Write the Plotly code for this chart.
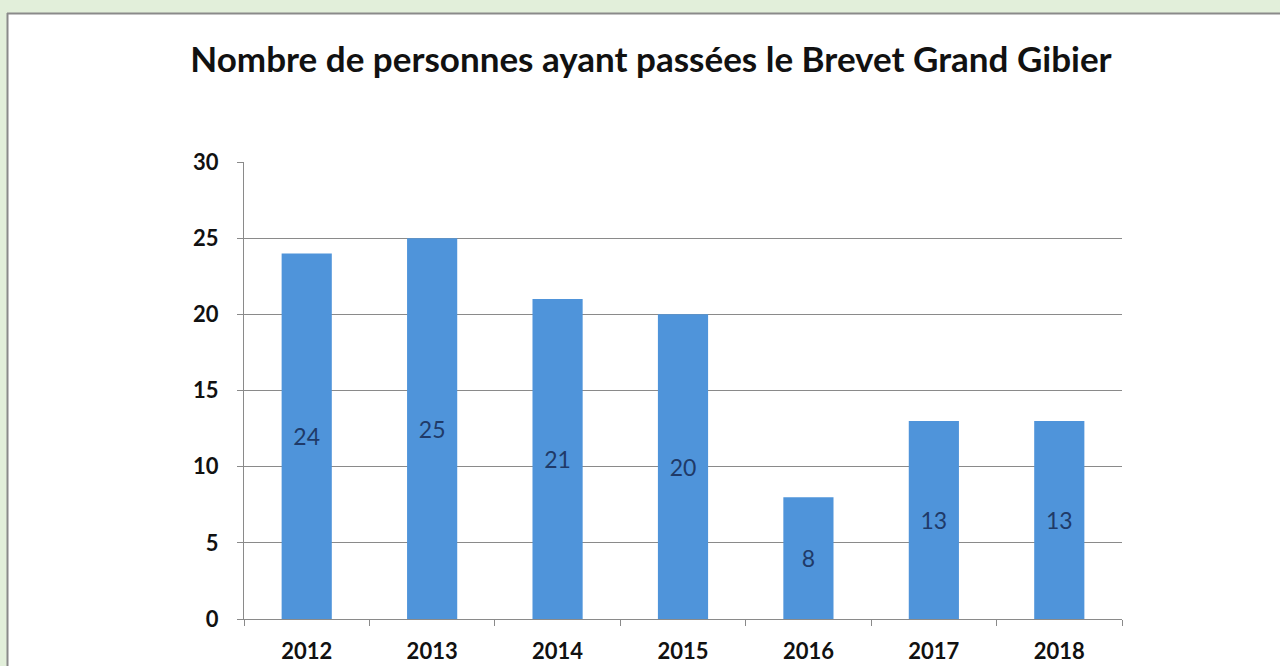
import plotly.graph_objects as go

years = ["2012", "2013", "2014", "2015", "2016", "2017", "2018"]
counts = [24, 25, 21, 20, 8, 13, 13]
title_text = "Nombre de personnes ayant passées le Brevet Grand Gibier"

# body margin is removed in post_script, so figure pixels == screen pixels
W, H = 1280, 666
L, R, T, B = 244, W - 1122, 162, H - 619
pw, ph = W - L - R, H - T - B

def px_x(p):
    return (p - L) / pw

def px_y(p):
    return (H - B - p) / ph

fig = go.Figure()
fig.add_trace(go.Bar(
    x=years, y=counts,
    text=[str(v) for v in counts],
    textposition="inside", insidetextanchor="middle",
    textfont=dict(family="Lato", size=23, color="#1F3A68"),
    marker=dict(color="#4F94DA", line=dict(width=0)),
    width=0.4,
    hoverinfo="skip",
))

GREEN = "#E2EFDA"
BORDER = "#8A8A8A"
# green surround (top and left), then the panel's grey border
fig.add_shape(type="rect", xref="paper", yref="paper",
              x0=px_x(-20), x1=px_x(1400), y0=px_y(13), y1=px_y(-20),
              fillcolor=GREEN, line=dict(width=0), layer="below")
fig.add_shape(type="rect", xref="paper", yref="paper",
              x0=px_x(-20), x1=px_x(7), y0=px_y(700), y1=px_y(-20),
              fillcolor=GREEN, line=dict(width=0), layer="below")
fig.add_shape(type="line", xref="paper", yref="paper",
              x0=px_x(7), x1=px_x(1400), y0=px_y(13.5), y1=px_y(13.5),
              line=dict(color=BORDER, width=2), layer="below")
fig.add_shape(type="line", xref="paper", yref="paper",
              x0=px_x(7.5), x1=px_x(7.5), y0=px_y(13), y1=px_y(700),
              line=dict(color=BORDER, width=2), layer="below")

fig.update_layout(
    width=W, height=H,
    margin=dict(l=L, r=R, t=T, b=B, pad=0, autoexpand=False),
    paper_bgcolor="white", plot_bgcolor="rgba(0,0,0,0)",
    showlegend=False,
    title=dict(text="<b>" + title_text + "</b>", x=651 / W, xanchor="center",
               y=1 - 60 / H, yanchor="middle",
               font=dict(family="Lato", size=35, color="#111111")),
    xaxis=dict(showline=True, linecolor=BORDER, linewidth=1, automargin=False,
               ticks="outside", tickson="boundaries", ticklen=6, tickcolor=BORDER,
               tickfont=dict(family="Lato", size=22, color="#111111", weight="bold"),
               ticklabelstandoff=13,
               showgrid=False),
    yaxis=dict(range=[0, 30], dtick=5, showline=True, linecolor=BORDER, linewidth=1,
               automargin=False,
               ticks="outside", ticklen=6, tickcolor=BORDER,
               gridcolor=BORDER, gridwidth=1, zeroline=False,
               tickfont=dict(family="Lato", size=22, color="#111111", weight="bold"),
               ticklabelstandoff=14),
    bargap=0.6,
)

fig.write_html(
    "out.html",
    config={"displayModeBar": False},
    post_script=("document.body.style.margin='0';"
                 "document.body.style.overflow='hidden';"
                 "document.body.style.background='white';"),
)
